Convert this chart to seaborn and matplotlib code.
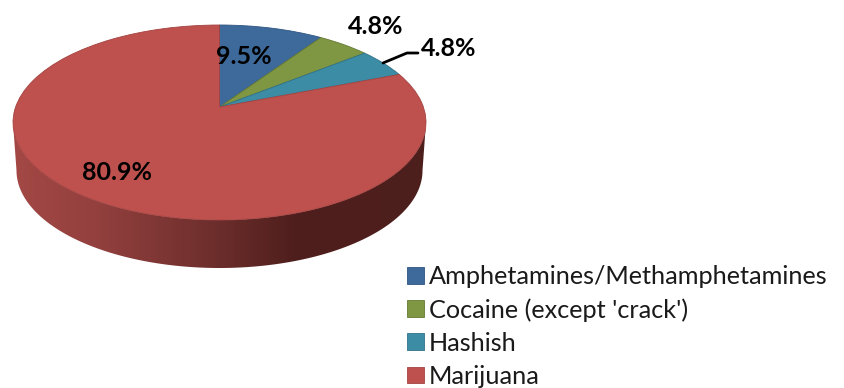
import numpy as np
import matplotlib
matplotlib.use("Agg")
import matplotlib.pyplot as plt
import seaborn as sns
from matplotlib.colors import LinearSegmentedColormap
from matplotlib.patches import PathPatch, Polygon
from matplotlib.path import Path

drugs = ["Amphetamines/Methamphetamines", "Cocaine (except 'crack')", "Hashish", "Marijuana"]
shares = [9.5, 4.8, 4.8, 80.9]
slice_colors = ["#3D6A9B", "#7F9743", "#3C8CA6", "#BE504D"]
edge_colors = ["#2F5480", "#657A33", "#2E7288", "#A44341"]

sns.set_theme(style="white")
plt.rcParams["font.family"] = ["Lato", "DejaVu Sans"]

# ellipse of the top face, in pixels of the picture
cx, cy = 219.5, 122.5
rx, ry = 206.5, 97.5
k = 0.159  # how far the apex sits above the ellipse centre
depth = 48


def tilt(xy):
    # circle -> tilted disc, same thing powerpoint does for 3d pies
    x, y = xy[:, 0], xy[:, 1]
    w = 1 + k * y
    return np.column_stack([cx + rx * x * np.sqrt(1 - k**2) / w,
                            cy - ry * (y + k) / w])


fig, ax = plt.subplots(figsize=(8.45, 3.88), dpi=100)
fig.subplots_adjust(0, 0, 1, 1)

wedges, _ = ax.pie(shares, colors=slice_colors, startangle=90, counterclock=False)

# side of the pie, darker towards the right
t = np.linspace(np.pi, 2 * np.pi, 200)
upper = np.column_stack([cx + rx * np.cos(t), cy - ry * np.sin(t)])
lower = np.column_stack([cx + 203 * np.cos(t), cy + depth - ry * np.sin(t)])
rim = Polygon(np.vstack([upper, lower[::-1]]), closed=True, transform=ax.transData,
              fc="none", ec="none")
ax.add_patch(rim)
rim_cmap = LinearSegmentedColormap.from_list("rim", [
    (0.0, "#A34845"), (0.2, "#93403E"), (0.35, "#7F3735"), (0.5, "#6B2D2B"),
    (0.68, "#4F1F1D"), (1.0, "#4C1E1C")])
img = ax.imshow(np.linspace(0, 1, 256)[None, :], cmap=rim_cmap, aspect="auto",
                extent=(13, 426, 275, 110), zorder=0.5)
img.set_clip_path(rim)

# swap the flat wedges for tilted ones
slices = []
for w, fc, ec in zip(wedges, slice_colors, edge_colors):
    p = w.get_path()
    slices.append(ax.add_patch(PathPatch(Path(tilt(p.vertices), p.codes), fc=fc, ec=ec,
                                         lw=0.6, zorder=2)))
    w.remove()

# leader line for the hashish label
ax.plot([383, 407, 418], [63, 53, 53], color="black", lw=2, zorder=3)

label_pos = [(244, 57), (376, 26), (449, 49), (117, 173)]
for v, (lx, ly) in zip(shares, label_pos):
    ax.text(lx, ly, f"{v:.1f}%", ha="center", va="center", fontsize=18,
            fontweight="bold", color="black", zorder=4)

ax.set_xlim(0, 845)
ax.set_ylim(388, 0)
ax.set_aspect("auto")

ax.legend(handles=slices, labels=drugs, loc="upper left", bbox_to_anchor=(407 / 845, 1 - 265 / 388),
          frameon=False, fontsize=18.15, handlelength=0.66, handleheight=0.66, handletextpad=0.22,
          labelspacing=0.4, borderpad=0, borderaxespad=0, labelcolor="#1A1A1A")

fig.savefig("out.png", dpi=100)
